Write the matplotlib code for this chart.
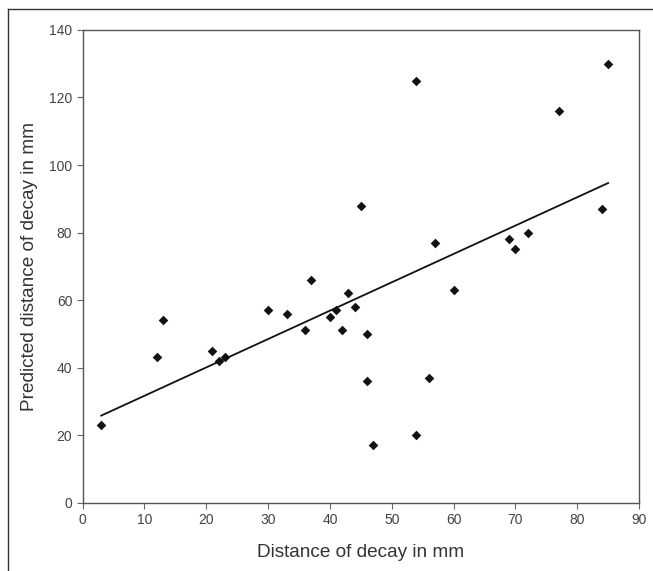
import numpy as np
import matplotlib
matplotlib.use("Agg")
import matplotlib.pyplot as plt
from matplotlib.lines import Line2D

actual = [3, 12, 13, 21, 22, 23, 30, 33, 36, 37, 40, 41, 42, 43, 44,
          45, 46, 46, 47, 54, 54, 56, 57, 60, 69, 70, 72, 77, 84, 85]
predicted = [23, 43, 54, 45, 42, 43, 57, 56, 51, 66, 55, 57, 51, 62, 58,
             88, 50, 36, 17, 125, 20, 37, 77, 63, 78, 75, 80, 116, 87, 130]

x_ticks = [0, 10, 20, 30, 40, 50, 60, 70, 80, 90]
y_ticks = [0, 20, 40, 60, 80, 100, 120, 140]

plt.rcParams["font.family"] = ["Liberation Sans", "DejaVu Sans"]

fig = plt.figure(figsize=(6.53, 5.71), dpi=100)
ax = fig.add_axes([0.1266, 0.1196, 0.852, 0.828])

x = np.array(actual, dtype=float)
y = np.array(predicted, dtype=float)
slope, icpt = np.polyfit(x, y, 1)
xl = np.array([x.min(), x.max()])
ax.plot(xl, slope * xl + icpt, color="#111111", lw=1.3)

ax.scatter(x, y, marker="D", s=24, color="#111111", zorder=3, linewidths=0)

ax.set_xlim(0, 90)
ax.set_ylim(0, 140)
ax.set_xticks(x_ticks)
ax.set_yticks(y_ticks)
ax.tick_params(direction="out", length=4, width=0.8, colors="#666666",
               labelcolor="#444444", labelsize=10)
for s in ax.spines.values():
    s.set_color("#555555")
    s.set_linewidth(1.0)

ax.set_xlabel("Distance of decay in mm", fontsize=13.7, color="#333333", labelpad=12)
ax.set_ylabel("Predicted distance of decay in mm", fontsize=13.7, color="#333333", labelpad=8)

# outer frame (open at right and bottom, as in the scan)
fig.add_artist(Line2D([8 / 653, 8 / 653], [1 - 9 / 571, 0], transform=fig.transFigure,
                      color="#333333", lw=1.0))
fig.add_artist(Line2D([8 / 653, 1], [1 - 9 / 571, 1 - 9 / 571], transform=fig.transFigure,
                      color="#333333", lw=1.0))

fig.savefig("out.png", dpi=100)
